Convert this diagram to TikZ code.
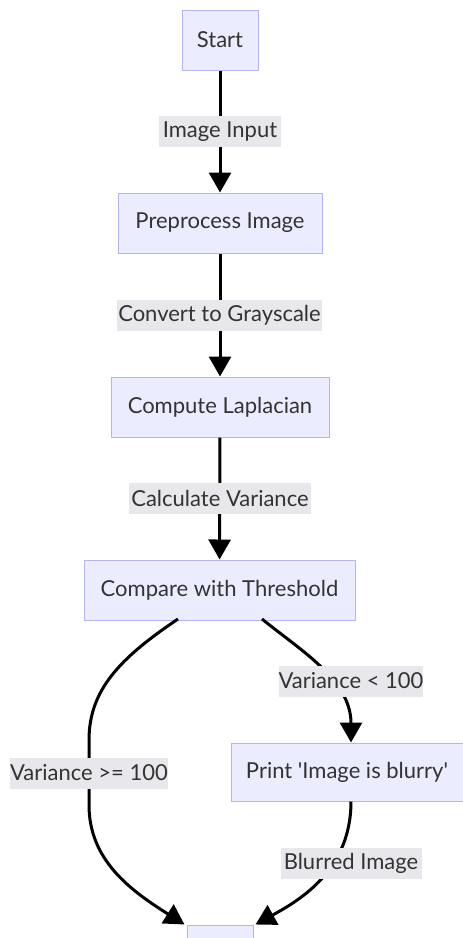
\documentclass[tikz,border=0pt]{standalone}
\usepackage{fontspec}
\setmainfont{Lato}
\usetikzlibrary{arrows.meta}
\definecolor{boxfill}{HTML}{ECECFF}
\definecolor{boxdraw}{HTML}{B4B4F0}
\definecolor{txt}{HTML}{333333}
\definecolor{lblbg}{HTML}{E8E8EC}
\tikzset{
  flowbox/.style={draw=boxdraw, line width=1pt, fill=boxfill, text=txt, font=\fontsize{22}{26}\selectfont, inner sep=0pt, minimum height=60pt},
  edgelbl/.style={fill=lblbg, text=txt, font=\fontsize{22}{26}\selectfont, inner sep=0pt, minimum height=31pt},
  flowedge/.style={line width=3pt, draw=black, -{Triangle[length=20pt,width=22pt]}},
}
\begin{document}
\begin{tikzpicture}[x=1pt,y=-1pt]
\useasboundingbox (0,0) rectangle (463,938);
\clip (0,0) rectangle (463,938);
\node[flowbox, minimum width=76pt] (start) at (220,40) {Start};
\node[flowbox, minimum width=204pt] (prep) at (220,223) {Preprocess Image};
\node[flowbox, minimum width=218pt] (lap) at (220,407) {Compute Laplacian};
\node[flowbox, minimum width=271pt] (cmp) at (219.5,590) {Compare with Threshold};
\node[flowbox, minimum width=232pt, minimum height=58pt] (blur) at (347,772) {Print \textquotesingle Image is blurry\textquotesingle};
\node[flowbox, minimum width=66pt] (end) at (220,955) {};
\coordinate (cmpL) at (178,619);
\coordinate (cmpR) at (262,619);
\coordinate (blurB) at ([xshift=4pt]blur.south);
\coordinate (blurT) at ([xshift=4pt]blur.north);
\coordinate (endL) at ([xshift=-2pt]end.north west);
\coordinate (endR) at ([xshift=2pt]end.north east);
\draw[flowedge] (start) -- (prep);
\draw[flowedge] (prep) -- (lap);
\draw[flowedge] (lap) -- (cmp);
\draw[flowedge] (cmpL) .. controls (120,658) and (89,690) .. (89,740) -- (89,805) .. controls (89,860) and (130,890) .. (endL);
\draw[flowedge] (cmpR) .. controls (300,650) and (351,680) .. (blurT);
\draw[flowedge] (blurB) .. controls (351,870) and (300,900) .. (endR);
\node[edgelbl, minimum width=122pt] (l1) at (220,131.5) {Image Input};
\node[edgelbl, minimum width=205pt] (l2) at (219.5,315) {Convert to Grayscale};
\node[edgelbl, minimum width=182pt] (l3) at (220,498) {Calculate Variance};
\node[edgelbl, minimum width=142pt] (l4) at (351,681) {Variance < 100};
\node[edgelbl, minimum width=156pt] (l5) at (89,773) {Variance >= 100};
\node[edgelbl, minimum width=141pt] (l6) at (351,863) {Blurred Image};
\end{tikzpicture}
\end{document}
